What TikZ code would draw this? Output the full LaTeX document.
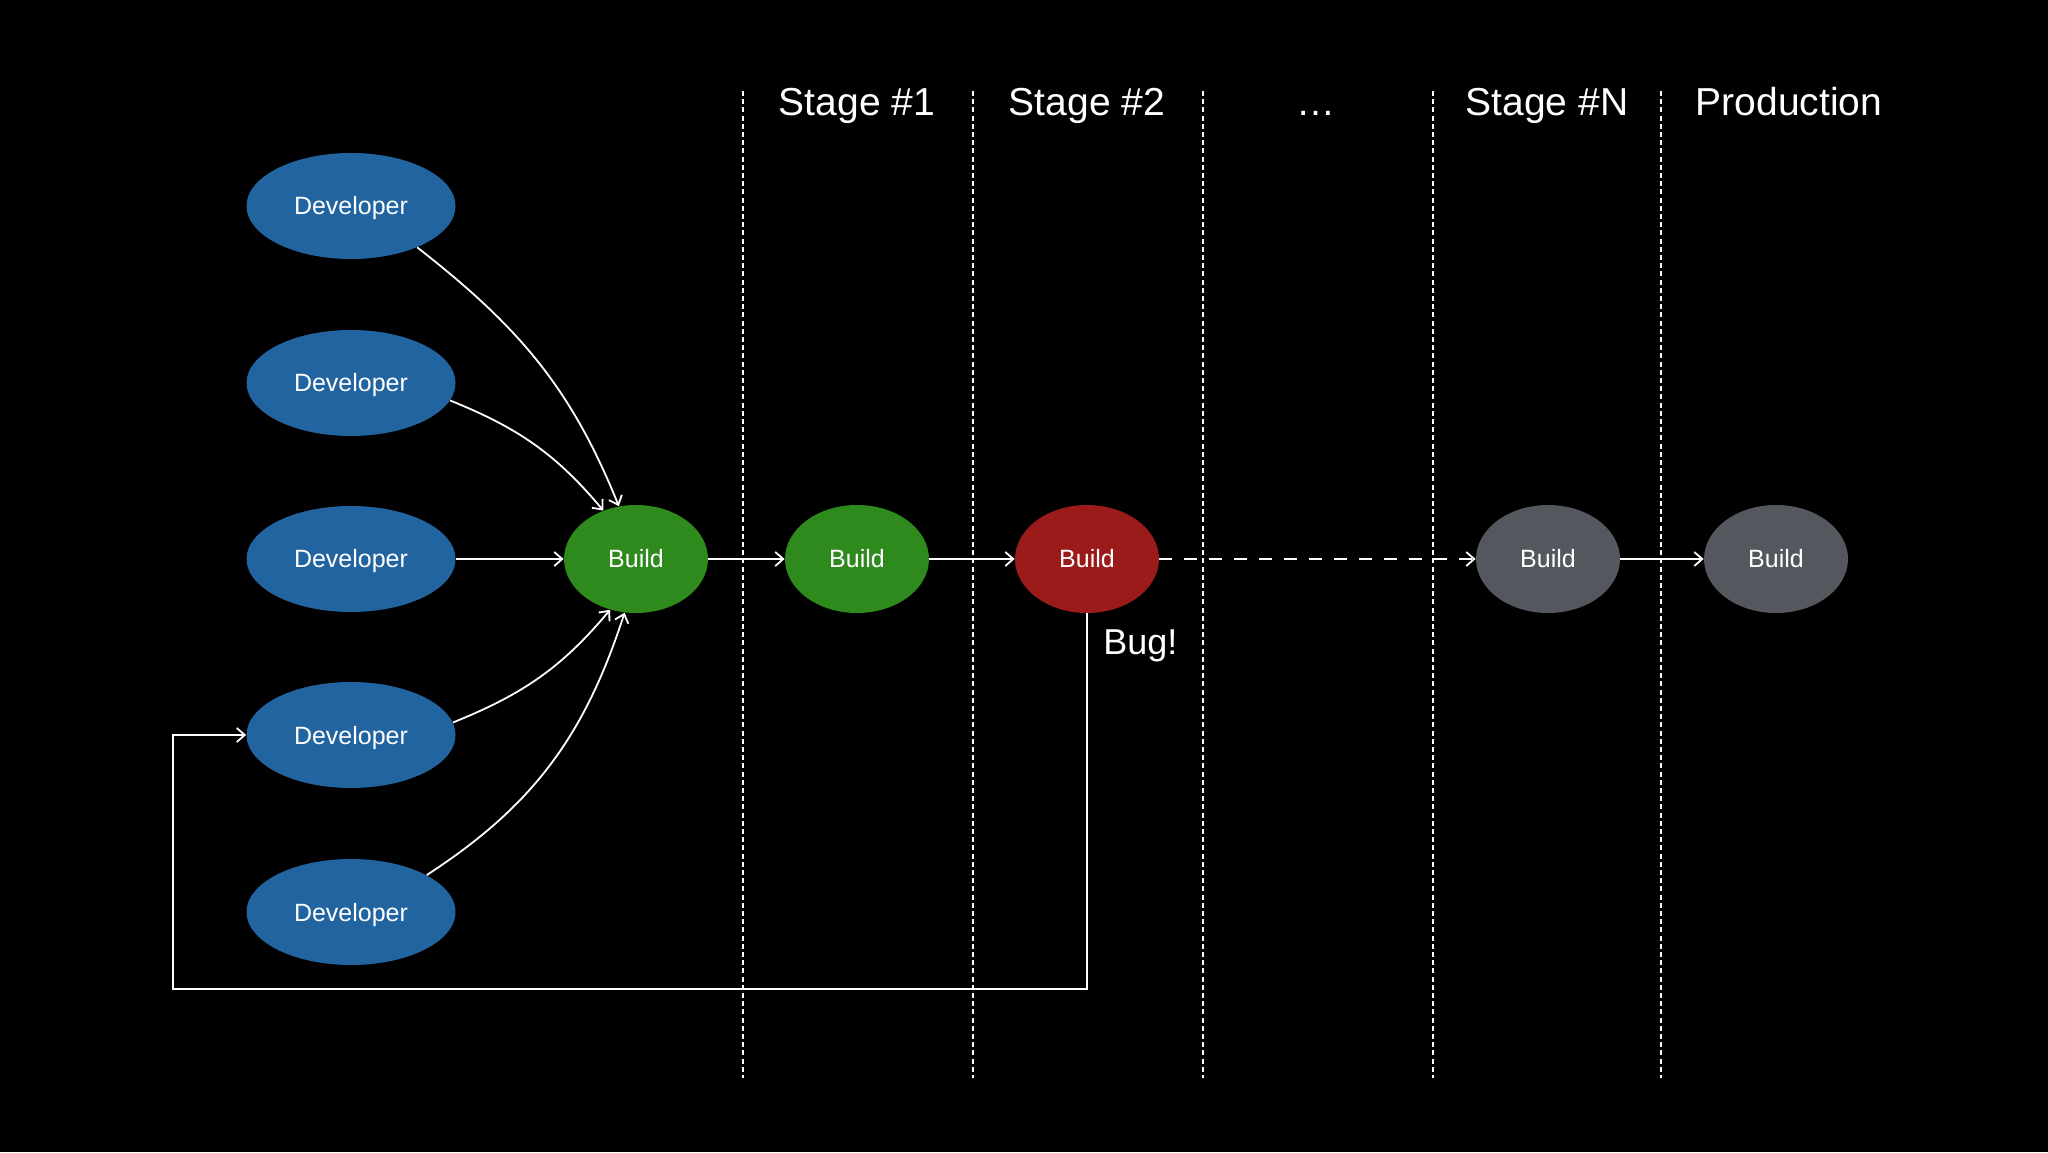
\documentclass[tikz,border=0pt]{standalone}
\usepackage{fontspec}
\setmainfont{Liberation Sans}
\usetikzlibrary{arrows.meta,shapes.geometric}
\definecolor{devblue}{RGB}{33,100,160}
\definecolor{okgreen}{RGB}{47,138,30}
\definecolor{bugred}{RGB}{155,27,27}
\definecolor{idlegray}{RGB}{84,87,94}
\tikzset{
  devnode/.style={ellipse, fill=devblue, text=white, inner sep=0pt,
    text height=9pt, text depth=0pt,
    minimum width=104.5pt, minimum height=53pt, font=\fontsize{12.5pt}{14pt}\selectfont},
  buildnode/.style={ellipse, inner sep=0pt, text=white,
    text height=9pt, text depth=0pt,
    minimum width=72pt, minimum height=54pt, font=\fontsize{12.5pt}{14pt}\selectfont},
  arr/.style={draw=white, line width=0.9pt, -{Straight Barb[length=4pt,width=7pt,line width=0.9pt]}},
  dasharr/.style={arr, dash pattern=on 6.5pt off 6pt},
  vsep/.style={draw=white, line width=0.9pt, dash pattern=on 2.5pt off 1.6pt},
  title/.style={text=white, anchor=base, inner sep=0pt, font=\fontsize{19.5pt}{22pt}\selectfont},
  buglabel/.style={text=white, anchor=base west, inner sep=0pt, font=\fontsize{18pt}{20pt}\selectfont},
  plainline/.style={draw=white, line width=0.9pt}
}
\begin{document}
\begin{tikzpicture}[x=0.5pt, y=0.5pt]
\fill[black] (0,0) rectangle (2048,1152);
\useasboundingbox (0,0) rectangle (2048,1152);

% stage separators
\foreach \xx in {743,973,1203,1433,1661}
  \draw[vsep] (\xx,1061) -- (\xx,74);

% titles
\node[title] (t1) at (857,1036) {Stage \#1};
\node[title] (t2) at (1087,1036) {Stage \#2};
\node[title] (t3) at (1316,1036) {…};
\node[title] (t4) at (1547,1036) {Stage \#N};
\node[title] (t5) at (1789,1036) {Production};

% developers
\node[devnode] (d1) at (351,946) {Developer};
\node[devnode] (d2) at (351,769) {Developer};
\node[devnode] (d3) at (351,593) {Developer};
\node[devnode] (d4) at (351,417) {Developer};
\node[devnode] (d5) at (351,240) {Developer};

% builds
\node[buildnode, fill=okgreen] (b1) at (636,593) {Build};
\node[buildnode, fill=okgreen] (b2) at (857,593) {Build};
\node[buildnode, fill=bugred] (b3) at (1087,593) {Build};
\node[buildnode, fill=idlegray] (b4) at (1548,593) {Build};
\node[buildnode, fill=idlegray] (b5) at (1776,593) {Build};

\node[buglabel] (bug) at (1103,497) {Bug!};

% connectors into first build
\draw[arr] (d1.-32) to[out=-38, in=112] (b1.108);
\draw[arr] (d2.-10) to[out=-22, in=130] (b1.124);
\draw[arr] (d3.east) -- (b1.west);
\draw[arr] (d4.7) to[out=22, in=-130] (b1.-117);
\draw[arr] (d5.26) to[out=33, in=-108] (b1.-102);

% pipeline
\draw[arr] (b1.east) -- (b2.west);
\draw[arr] (b2.east) -- (b3.west);
\draw[dasharr] (b3.east) -- (b4.west);
\draw[arr] (b4.east) -- (b5.west);

% feedback loop
\coordinate (fbcorner) at (173,163);
\draw[arr] (b3.south) |- (fbcorner) |- (d4.west);
\end{tikzpicture}
\end{document}
